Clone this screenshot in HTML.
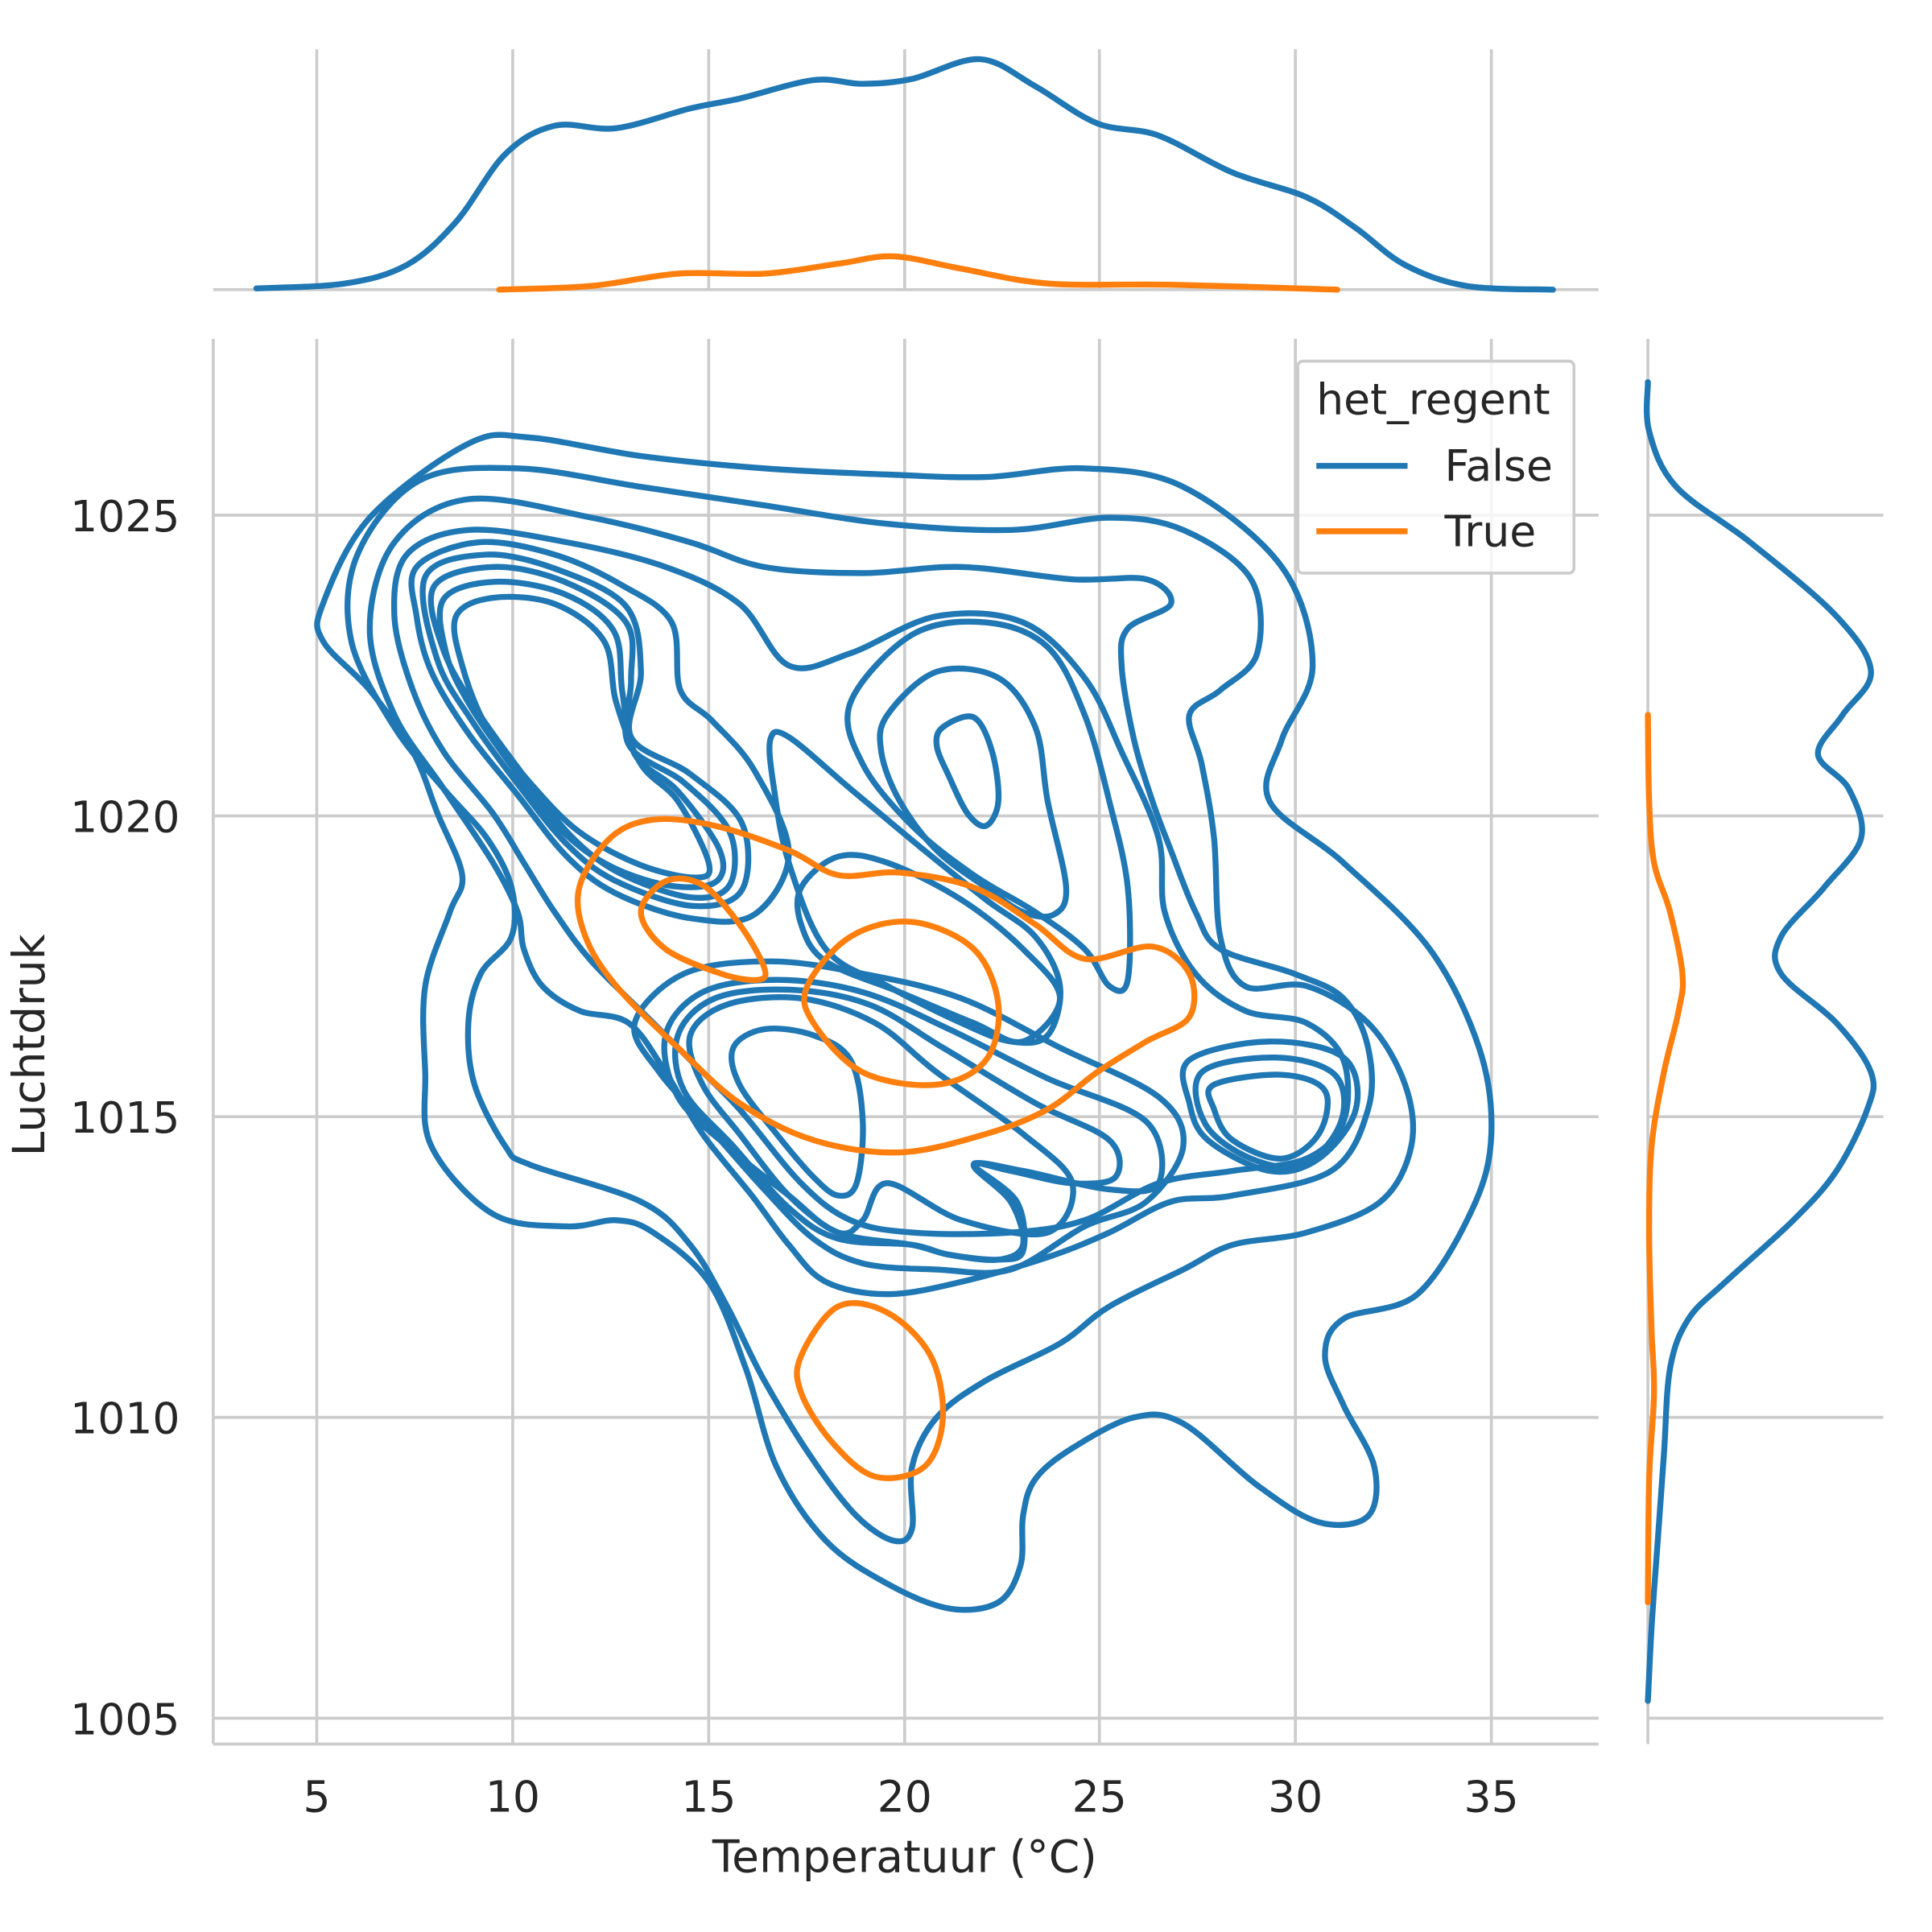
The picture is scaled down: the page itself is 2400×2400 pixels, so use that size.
<!DOCTYPE html>
<html><head><meta charset="utf-8"><style>
html,body{margin:0;padding:0;background:#fff;overflow:hidden}
svg{display:block}
text{font-family:"DejaVu Sans","Liberation Sans",sans-serif;fill:#262626}
</style></head><body>
<svg id="s" width="2400" height="2400" viewBox="0 0 1567.5 1567.5" xmlns="http://www.w3.org/2000/svg">
<g stroke="#cccccc" stroke-width="2.4" fill="none">
<line x1="257" y1="40" x2="257" y2="235"/><line x1="416" y1="40" x2="416" y2="235"/><line x1="575" y1="40" x2="575" y2="235"/><line x1="734" y1="40" x2="734" y2="235"/><line x1="892" y1="40" x2="892" y2="235"/><line x1="1051" y1="40" x2="1051" y2="235"/><line x1="1210" y1="40" x2="1210" y2="235"/>
<line x1="173" y1="235" x2="1297" y2="235"/>
<line x1="257" y1="275" x2="257" y2="1415"/><line x1="416" y1="275" x2="416" y2="1415"/><line x1="575" y1="275" x2="575" y2="1415"/><line x1="734" y1="275" x2="734" y2="1415"/><line x1="892" y1="275" x2="892" y2="1415"/><line x1="1051" y1="275" x2="1051" y2="1415"/><line x1="1210" y1="275" x2="1210" y2="1415"/>
<line x1="173" y1="418" x2="1297" y2="418"/><line x1="173" y1="662" x2="1297" y2="662"/><line x1="173" y1="906" x2="1297" y2="906"/><line x1="173" y1="1150" x2="1297" y2="1150"/><line x1="173" y1="1394" x2="1297" y2="1394"/>
<line x1="173" y1="275" x2="173" y2="1415"/><line x1="173" y1="1415" x2="1297" y2="1415"/>
<line x1="1337" y1="418" x2="1528" y2="418"/><line x1="1337" y1="662" x2="1528" y2="662"/><line x1="1337" y1="906" x2="1528" y2="906"/><line x1="1337" y1="1150" x2="1528" y2="1150"/><line x1="1337" y1="1394" x2="1528" y2="1394"/>
<line x1="1337" y1="275" x2="1337" y2="1415"/>
</g>
<g id="curves" fill="none" stroke-width="4.8" stroke-linejoin="round" stroke-linecap="round">
<polygon stroke="#1f77b4" points="262,490 300,420 380,360 430,355 520,370 620,380 720,385 800,387 880,380 960,395 1040,460 1065,540 1040,600 1030,650 1090,700 1160,770 1200,850 1210,920 1195,980 1150,1050 1090,1070 1075,1100 1090,1140 1115,1190 1110,1230 1070,1235 1020,1205 960,1155 920,1150 870,1175 840,1200 830,1230 828,1270 810,1300 770,1305 720,1285 670,1250 630,1190 605,1110 575,1040 530,1000 500,990 460,995 400,985 350,930 345,870 345,800 365,740 375,710 355,660 335,610 300,560 262,520"/>
<polygon stroke="#1f77b4" points="290,450 340,390 420,380 520,395 620,410 720,425 820,430 900,420 960,430 1015,470 1020,530 990,560 965,580 975,620 985,680 990,760 1010,800 1060,800 1110,830 1140,880 1145,930 1120,975 1060,1000 1000,1010 960,1030 900,1060 860,1090 800,1120 760,1150 740,1190 740,1240 725,1250 695,1230 660,1185 620,1120 590,1060 560,1010 520,975 430,945 410,930 385,880 380,830 390,790 415,760 415,720 395,680 360,640 320,590 285,520"/>
<polygon stroke="#1f77b4" points="320,440 380,405 480,420 560,440 620,460 700,465 780,460 870,470 930,470 950,490 915,510 910,540 920,600 935,650 950,690 970,740 990,770 1050,790 1090,810 1110,850 1110,900 1080,950 1000,970 950,975 900,1000 850,1020 780,1040 720,1050 670,1040 640,1010 610,970 570,920 540,870 510,830 470,820 440,800 425,770 420,740 400,700 360,640 320,580 300,510"/>
<polygon stroke="#1f77b4" points="330,450 380,430 460,440 540,460 600,490 640,540 690,530 760,500 830,505 880,550 910,610 940,680 945,740 970,790 1010,820 1060,830 1090,860 1090,910 1060,940 1000,950 940,960 880,990 820,1000 740,1000 690,990 650,960 600,900 560,860 530,830 480,780 450,740 425,700 400,660 360,610 335,560 320,500"/>
<polygon stroke="#1f77b4" points="338,460 388,440 450,450 505,475 545,505 552,560 578,585 612,625 640,692 612,742 560,745 500,725 460,695 420,645 380,595 350,545 338,500"/>
<polygon stroke="#1f77b4" points="345,468 394,450 452,462 508,492 520,545 512,598 560,628 602,668 602,722 562,735 500,715 460,685 420,636 383,585 355,536"/>
<polygon stroke="#1f77b4" points="352,476 400,460 458,472 508,505 512,552 510,604 555,635 592,675 592,718 560,728 502,708 462,677 424,628 388,578 360,528"/>
<polygon stroke="#1f77b4" points="360,486 402,472 458,482 498,512 505,562 515,612 550,642 584,690 580,716 540,718 490,700 450,668 414,620 380,570 362,530"/>
<polygon stroke="#1f77b4" points="370,500 400,485 450,490 490,520 500,570 520,620 550,650 575,700 565,712 520,702 470,675 430,635 395,590 375,540"/>
<polygon stroke="#1f77b4" points="765,590 790,582 805,610 810,650 800,670 785,660 770,630 760,605"/>
<polygon stroke="#1f77b4" points="720,580 760,545 810,550 840,590 850,650 865,720 855,742 830,740 800,720 760,690 730,650 715,610"/>
<polygon stroke="#1f77b4" points="690,570 740,515 800,505 850,525 880,580 900,650 915,720 915,795 900,800 880,770 840,740 790,710 740,670 700,620"/>
<polygon stroke="#1f77b4" points="625,600 640,598 690,640 750,690 800,730 840,760 860,800 850,840 820,845 780,830 720,800 670,770 640,700 628,640"/>
<polygon stroke="#1f77b4" points="650,720 680,695 720,700 780,730 830,770 860,810 830,845 790,830 730,805 670,780 650,750"/>
<polygon stroke="#1f77b4" points="595,850 620,835 660,840 690,860 700,910 695,960 680,970 660,955 630,920 600,880"/>
<polygon stroke="#1f77b4" points="560,840 590,815 650,810 710,830 760,870 830,920 870,960 850,1000 780,990 720,960 700,990 680,1000 640,970 600,920 570,880"/>
<polygon stroke="#1f77b4" points="550,840 580,810 640,803 705,815 765,850 840,895 900,925 905,955 870,960 820,950 790,945 825,975 830,1015 810,1022 770,1018 740,1010 680,1005 640,980 595,930 555,885"/>
<polygon stroke="#1f77b4" points="540,840 570,805 630,795 700,805 770,835 850,875 930,910 940,960 900,965 830,950 790,945 820,975 830,1010 810,1022 770,1018 740,1010 680,1000 640,970 590,930 550,890"/>
<polygon stroke="#1f77b4" points="515,830 555,790 625,780 700,790 780,810 860,850 940,890 960,930 930,975 880,995 820,1030 760,1030 700,1025 660,1005 620,965 580,920 535,870"/>
<polygon stroke="#1f77b4" points="985,880 1040,872 1075,885 1070,920 1040,940 1000,925 985,900"/>
<polygon stroke="#1f77b4" points="975,870 1035,858 1083,872 1088,910 1058,945 1015,940 978,912"/>
<polygon stroke="#1f77b4" points="965,860 1030,845 1090,858 1100,900 1070,940 1030,950 980,925 965,895"/>
<polygon stroke="#ff7f0e" points="470,720 495,680 530,665 580,670 640,690 680,710 730,708 790,720 840,750 880,778 935,768 965,790 965,825 930,845 890,870 850,900 800,920 730,935 660,925 600,895 550,850 500,800 475,760"/>
<polygon stroke="#ff7f0e" points="520,740 540,715 570,718 600,750 620,785 615,795 585,790 540,770"/>
<polygon stroke="#ff7f0e" points="655,800 690,760 740,748 790,770 810,815 800,860 760,880 700,870 660,830"/>
<polygon stroke="#ff7f0e" points="650,1100 680,1060 720,1065 755,1100 765,1150 750,1190 710,1198 675,1170 650,1130"/>
<polyline stroke="#1f77b4" points="208,234 280,230 330,215 370,180 410,125 450,102 500,104 560,88 600,80 660,65 700,68 740,64 795,48 840,70 890,100 940,110 1000,140 1060,160 1100,185 1140,215 1190,232 1260,235"/>
<polyline stroke="#ff7f0e" points="405,235 480,232 550,222 620,222 680,214 725,208 780,218 850,230 950,231 1085,235"/>
<polyline stroke="#1f77b4" points="1337,310 1338,350 1360,395 1420,440 1490,500 1518,545 1495,580 1475,612 1500,640 1510,680 1480,720 1445,760 1445,790 1490,830 1518,870 1515,900 1490,950 1455,990 1400,1040 1370,1070 1355,1110 1350,1180 1345,1250 1340,1320 1337,1380"/>
<polyline stroke="#ff7f0e" points="1337,580 1338,650 1342,700 1355,740 1365,790 1362,820 1350,870 1340,930 1338,1000 1340,1080 1342,1130 1338,1200 1337,1300"/>
</g>
<rect x="1053" y="293" width="224" height="172" rx="4" fill="#fff" fill-opacity="0.8" stroke="#cccccc" stroke-width="2.4"/>
<text x="1068" y="336" font-size="35">het_regent</text>
<line x1="1068" y1="378" x2="1142" y2="378" stroke="#1f77b4" stroke-width="4.8"/>
<text x="1172" y="390" font-size="35">False</text>
<line x1="1068" y1="431" x2="1142" y2="431" stroke="#ff7f0e" stroke-width="4.8"/>
<text x="1172" y="443" font-size="35">True</text>
<g font-size="35" text-anchor="end">
<text x="146" y="431">1025</text><text x="146" y="675">1020</text><text x="146" y="919">1015</text><text x="146" y="1163">1010</text><text x="146" y="1407">1005</text>
</g>
<g font-size="35" text-anchor="middle">
<text x="257" y="1470">5</text><text x="416" y="1470">10</text><text x="575" y="1470">15</text><text x="734" y="1470">20</text><text x="892" y="1470">25</text><text x="1051" y="1470">30</text><text x="1210" y="1470">35</text>
<text x="734" y="1519" font-size="36">Temperatuur (°C)</text>
<text transform="translate(36,848) rotate(-90)" font-size="36">Luchtdruk</text>
</g>
</svg>
<script>
(function(){
var ns="http://www.w3.org/2000/svg";
var els=document.querySelectorAll('#curves polygon, #curves polyline');
els.forEach(function(el){
 var closed=el.tagName==='polygon';
 var p=el.getAttribute('points').trim().split(/\s+/).map(function(s){var a=s.split(',');return [+a[0],+a[1]];});
 var n=p.length, d='M'+p[0][0]+','+p[0][1];
 var m=closed?n:n-1;
 for(var i=0;i<m;i++){
  var p0=p[closed?(i-1+n)%n:Math.max(i-1,0)],p1=p[i],p2=p[(i+1)%n],p3=p[closed?(i+2)%n:Math.min(i+2,n-1)];
  var c1=[p1[0]+(p2[0]-p0[0])/6,p1[1]+(p2[1]-p0[1])/6],c2=[p2[0]-(p3[0]-p1[0])/6,p2[1]-(p3[1]-p1[1])/6];
  d+='C'+c1[0].toFixed(1)+','+c1[1].toFixed(1)+' '+c2[0].toFixed(1)+','+c2[1].toFixed(1)+' '+p2[0]+','+p2[1];
 }
 if(closed)d+='Z';
 var path=document.createElementNS(ns,'path');
 path.setAttribute('d',d);path.setAttribute('stroke',el.getAttribute('stroke'));
 el.parentNode.replaceChild(path,el);
});
})();
</script>
</body></html>
